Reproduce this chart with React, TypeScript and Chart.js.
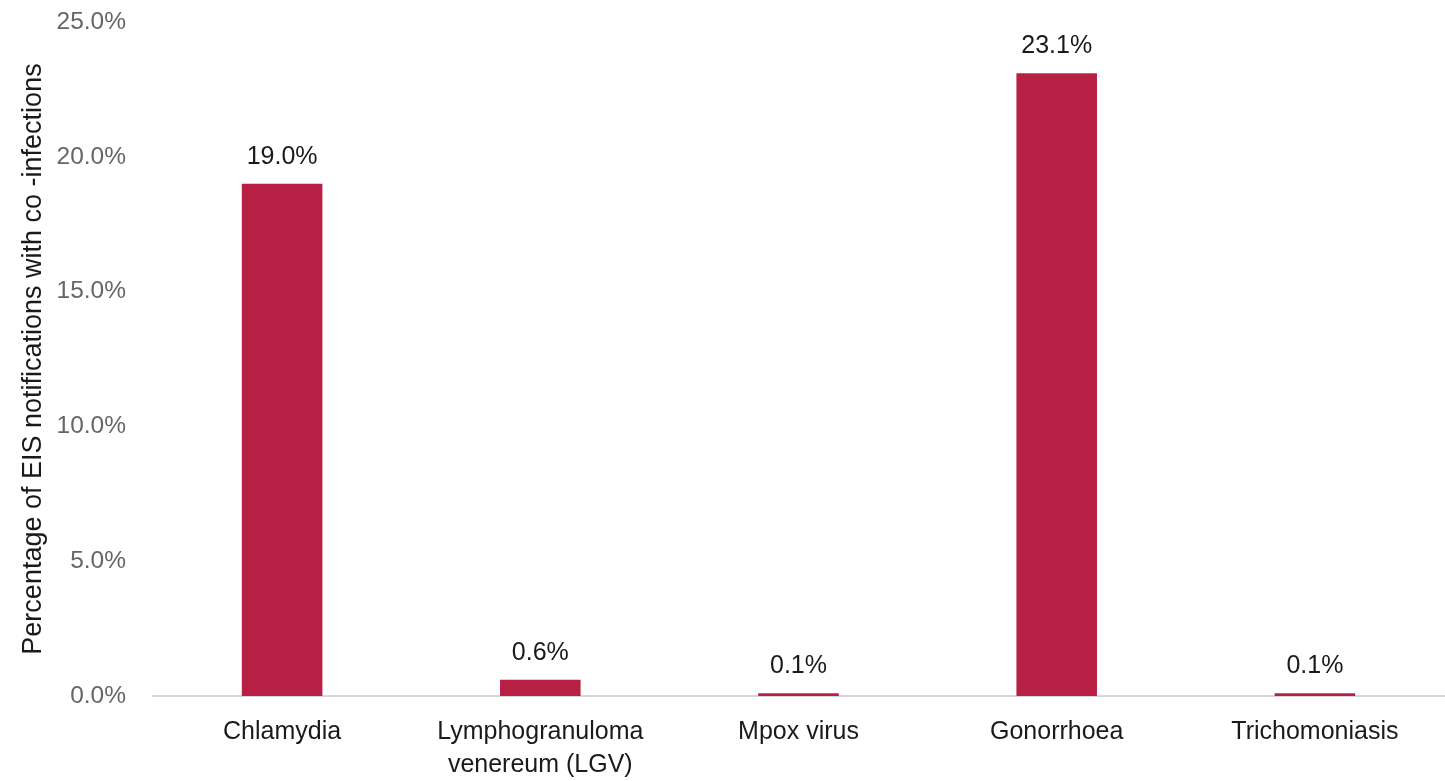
import React, { useEffect, useRef } from "react";
import { Chart, registerables } from "chart.js";

Chart.register(...registerables);

const categories: (string | string[])[] = [
  "Chlamydia",
  ["Lymphogranuloma", "venereum (LGV)"],
  "Mpox virus",
  "Gonorrhoea",
  "Trichomoniasis",
];
const values: number[] = [19.0, 0.6, 0.1, 23.1, 0.1];
const yTicks: number[] = [0, 5, 10, 15, 20, 25];
const yTitle = "Percentage of EIS notifications with co -infections";

const barColor = "#B81F45";
const FONT = "'Liberation Sans', Arial, sans-serif";

const dataLabelPlugin = {
  id: "dataLabels",
  afterDatasetsDraw(chart: any) {
    const ctx = chart.ctx;
    const meta = chart.getDatasetMeta(0);
    ctx.save();
    ctx.font = "25px " + FONT;
    ctx.fillStyle = "#1a1a1a";
    ctx.textAlign = "center";
    ctx.textBaseline = "alphabetic";
    meta.data.forEach((el: any, i: number) => {
      const v = values[i];
      ctx.fillText(v.toFixed(1) + "%", el.x, el.y - 20);
    });
    ctx.restore();
  },
};

export default function App() {
  const ref = useRef<HTMLCanvasElement | null>(null);
  useEffect(() => {
    if (!ref.current) return;
    const chart = new Chart(ref.current, {
      type: "bar",
      data: {
        labels: categories as any,
        datasets: [
          {
            data: values,
            backgroundColor: barColor,
            borderWidth: 0,
            barPercentage: 1,
            categoryPercentage: 0.312,
          },
        ],
      },
      options: {
        animation: false,
        responsive: true,
        maintainAspectRatio: false,
        layout: { padding: { top: 22, right: 1, left: 0, bottom: 0 } },
        plugins: {
          legend: { display: false },
          tooltip: { enabled: false },
        },
        scales: {
          x: {
            grid: { display: false, drawTicks: false },
            border: { display: true, color: "#d9d9d9", width: 2 },
            ticks: {
              color: "#1a1a1a",
              padding: 20,
              maxRotation: 0,
              autoSkip: false,
              font: { family: FONT, size: 25, lineHeight: 1.32 },
            },
            afterFit: (scale: any) => {
              scale.height = 85;
              scale.paddingLeft = 0;
              scale.paddingRight = 0;
            },
          },
          y: {
            min: 0,
            max: 25,
            afterBuildTicks: (scale: any) => {
              scale.ticks = yTicks.map((v) => ({ value: v }));
            },
            grid: { display: false, drawTicks: false },
            border: { display: false },
            ticks: {
              color: "#666666",
              padding: 27,
              font: { family: FONT, size: 24.5 },
              callback: (v: any) => Number(v).toFixed(1) + "%",
            },
            title: {
              display: true,
              text: yTitle,
              color: "#1a1a1a",
              font: { family: FONT, size: 27 },
              padding: { top: 17, bottom: 0 },
            },
            afterFit: (scale: any) => {
              scale.width = 153;
              scale.paddingTop = 0;
              scale.paddingBottom = 0;
            },
          },
        },
      },
      plugins: [dataLabelPlugin],
    });
    return () => chart.destroy();
  }, []);
  return (
    <div style={{ position: "absolute", left: 0, top: 0, width: 1445, height: 781, background: "#fff" }}>
      <canvas ref={ref} />
    </div>
  );
}
